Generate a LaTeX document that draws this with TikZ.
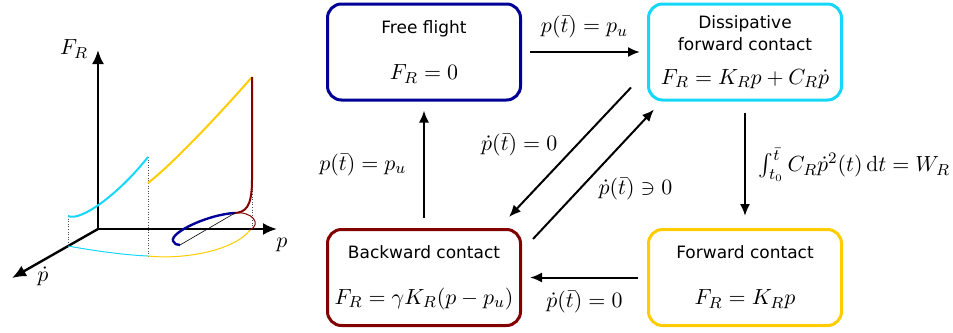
\documentclass[tikz,border=0pt]{standalone}
\usepackage{amsmath,amssymb}
\usepackage{fontspec}
\newfontfamily\statefont{DejaVu Sans}
\usetikzlibrary{calc,arrows.meta}
\definecolor{flightblue}{RGB}{0,0,150}
\definecolor{dissblue}{RGB}{20,215,250}
\definecolor{backred}{RGB}{130,0,0}
\definecolor{fwdyellow}{RGB}{255,204,0}
\tikzstyle{state}=[draw, line width=1.5pt, rounded corners=7pt, minimum width=96.5pt, minimum height=48pt, align=center, font=\fontsize{11}{11}\selectfont]
\tikzstyle{trans}=[line width=1pt, -{Latex[length=6pt,width=5pt]}]
\tikzstyle{axis}=[line width=1.2pt, -{Latex[length=7pt,width=6pt]}]
\tikzstyle{guide}=[densely dotted, line width=0.3pt, black!70]
\newcommand{\sttext}[1]{{\statefont\fontsize{8.5}{10.5}\selectfont #1}}

\begin{document}
\begin{tikzpicture}[x=0.5pt, y=-0.5pt, font=\fontsize{11}{11}\selectfont]
\useasboundingbox (0,0) rectangle (953,332);
% state machine
\node[state, draw=flightblue] (free) at (424,52) {\sttext{Free flight}\\[12pt] $F_R=0$};
\node[state, draw=dissblue] (diss) at (745,52) {\sttext{Dissipative}\\\sttext{forward contact}\\[6pt] $F_R=K_Rp+C_R\dot p$};
\node[state, draw=backred] (back) at (424,277.5) {\sttext{Backward contact}\\[12pt] $F_R=\gamma K_R(p-p_u)$};
\node[state, draw=fwdyellow] (fwd) at (745,277.5) {\sttext{Forward contact}\\[12pt] $F_R=K_Rp$};
\draw[trans, shorten <=4pt, shorten >=3.5pt] (free) -- (diss) node[midway, above=3pt] {$p(\bar t)=p_u$};
\draw[trans, shorten <=5pt, shorten >=4.5pt] (back) -- (free) node[midway, left=5pt] {$p(\bar t)=p_u$};
\draw[trans, shorten <=5.5pt, shorten >=6pt] (diss) -- (fwd) node[midway, right=3pt] {$\int_{t_0}^{\bar t} C_R\dot p^2(t)\,\mathrm{d}t=W_R$};
\draw[trans, shorten <=4.5pt, shorten >=4pt] (fwd) -- (back) node[midway, below=3pt] {$\dot p(\bar t)=0$};
\draw[trans] ($(diss.south west)+(-16,-14)$) -- ($(back.north east)+(-13,-11)$) node[midway, anchor=east, xshift=-2.5pt, yshift=3.75pt] {$\dot p(\bar t)=0$};
\draw[trans] ($(back.north east)+(11,11)$) -- ($(diss.south west)+(7,8)$) node[midway, anchor=west, xshift=-1.25pt, yshift=-7.5pt] {$\dot p(\bar t)\ni 0$};
% phase plot
\coordinate (O) at (98,229);
\coordinate (fr) at (98,50);
\coordinate (pp) at (277,229);
\coordinate (pd) at (12,278);
\draw[guide] (68,216) -- (68,246);
\draw[guide] (148,157) -- (148,256);
\draw[guide] (252,77) -- (252,230);
\draw[axis] (O) -- (fr);
\draw[axis] (O) -- (pp);
\draw[axis] (O) -- (pd);
\node (frlab) at (74,49) {$F_R$};
\node (plab) at (282,245) {$p$};
\node (pdlab) at (43,276) {$\dot p$};
\draw[dissblue, line width=1pt] (68,216) .. controls (80,222) and (118,195) .. (148,157);
\draw[fwdyellow, line width=1pt] (148,183) .. controls (175,162) and (225,108) .. (252,77);
\draw[backred, line width=1pt] (252,77) -- (252,180) .. controls (252,208) and (245,212) .. (235,213);
\draw[flightblue, line width=1.2pt] (235,213) .. controls (210,214) and (170,232) .. (173,241) .. controls (174,244) and (177,245) .. (180,245);
\draw[line width=0.3pt] (180,245) -- (235,213);
\draw[backred, line width=0.5pt] (235,213) .. controls (252,211) and (262,224) .. (250,230);
\draw[fwdyellow, line width=0.5pt] (148,256) .. controls (185,260) and (235,250) .. (250,230);
\draw[dissblue, line width=0.5pt] (68,246) .. controls (95,251) and (125,255) .. (148,256);
\end{tikzpicture}
\end{document}
